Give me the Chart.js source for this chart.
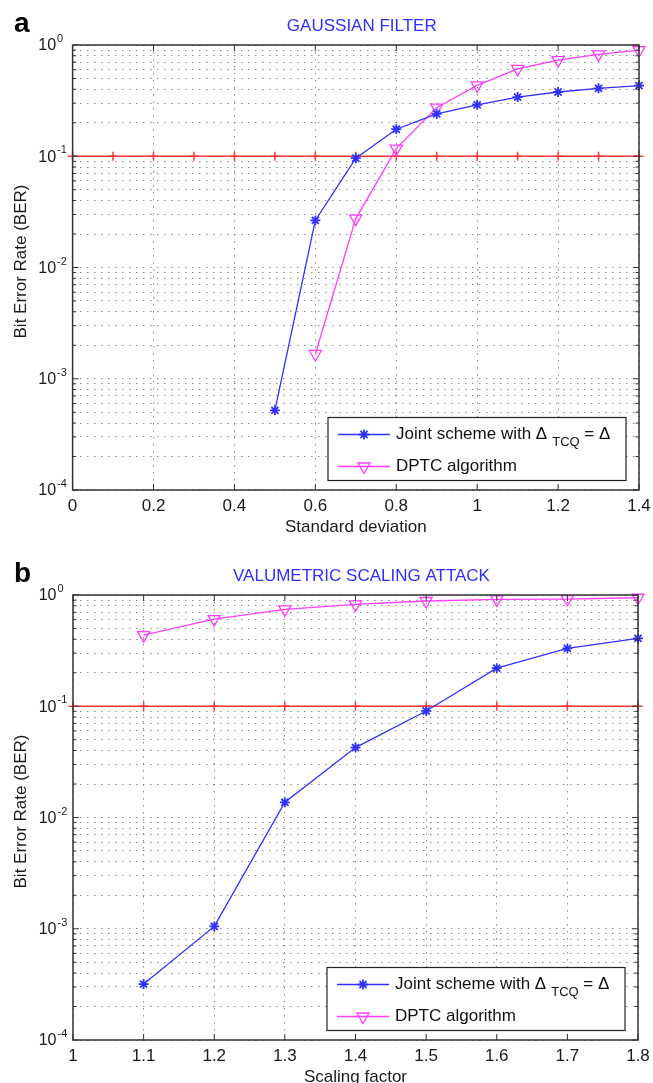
<!DOCTYPE html>
<html lang="en">
<head>
    <meta charset="UTF-8">
    <title>BER charts</title>
    <script src="https://cdn.jsdelivr.net/npm/chart.js"></script>
    <style>
        body {
            margin: 0;
            background: #fff;
        }
        .panel {
            position: absolute;
            left: 0;
        }
    </style>
</head>
<body>
    <canvas id="chartA" class="panel" style="top:0" width="653" height="545"></canvas>
    <canvas id="chartB" class="panel" style="top:545px" width="653" height="538"></canvas>

    <script>
// (a) gaussian filter
const gaussJointX = [0.5, 0.6, 0.7, 0.8, 0.9, 1.0, 1.1, 1.2, 1.3, 1.4];
const gaussJoint = [0.00052, 0.0265, 0.096, 0.175, 0.240, 0.290, 0.340, 0.378, 0.408, 0.431];
const gaussDptcX = [0.6, 0.7, 0.8, 0.9, 1.0, 1.1, 1.2, 1.3, 1.4];
const gaussDptc = [0.00167, 0.0275, 0.117, 0.274, 0.434, 0.611, 0.731, 0.824, 0.901];
const gaussThrX = [0, 0.1, 0.2, 0.3, 0.4, 0.5, 0.6, 0.7, 0.8, 0.9, 1.0, 1.1, 1.2, 1.3, 1.4];
const gaussXTicks = [0, 0.2, 0.4, 0.6, 0.8, 1, 1.2, 1.4];

// (b) valumetric scaling
const scaleX = [1.1, 1.2, 1.3, 1.4, 1.5, 1.6, 1.7, 1.8];
const scaleJoint = [0.000318, 0.00105, 0.0137, 0.0425, 0.0907, 0.22, 0.331, 0.407];
const scaleDptc = [0.436, 0.608, 0.743, 0.824, 0.883, 0.914, 0.92, 0.945];
const scaleThrX = [1.0, 1.1, 1.2, 1.3, 1.4, 1.5, 1.6, 1.7, 1.8];
const scaleXTicks = [1, 1.1, 1.2, 1.3, 1.4, 1.5, 1.6, 1.7, 1.8];

const threshold = 0.1;
const yDecades = [1e-4, 1e-3, 1e-2, 1e-1, 1];
const yExponents = ['-4', '-3', '-2', '-1', '0'];
const legendLabels = ['Joint scheme with \u0394', 'TCQ', ' = \u0394', 'DPTC algorithm'];

const FONT = "'Liberation Sans', Arial, sans-serif";
const BLUE = '#3030ff';
const MAGENTA = '#ff3cff';
const RED = '#ff3434';

// every 1..9 x 10^k between the decades, for the log grid
const yGridTicks = [];
yDecades.forEach((d, i) => {
    if (i === yDecades.length - 1) { yGridTicks.push(d); return; }
    for (let m = 1; m < 10; m++) yGridTicks.push(m * d);
});

function isDecade(v) {
    const l = Math.log10(v);
    return Math.abs(l - Math.round(l)) < 1e-6;
}

function pts(xs, ys) {
    return xs.map((x, i) => ({ x: x, y: Array.isArray(ys) ? ys[i] : ys }));
}

const matlabAxes = {
    id: 'matlabAxes',
    afterDatasetsDraw(chart, args, o) {
        const { ctx, chartArea: a, scales: { x, y } } = chart;
        const ds = chart.data.datasets;
        ctx.save();
        ctx.strokeStyle = '#333';
        ctx.lineWidth = 1;
        ctx.beginPath();
        x.ticks.forEach(t => {
            const px = x.getPixelForValue(t.value);
            ctx.moveTo(px, a.bottom); ctx.lineTo(px, a.bottom - 6);
            ctx.moveTo(px, a.top); ctx.lineTo(px, a.top + 6);
        });
        y.ticks.forEach(t => {
            const py = y.getPixelForValue(t.value);
            const len = isDecade(t.value) ? 6 : 3.5;
            ctx.moveTo(a.left, py); ctx.lineTo(a.left + len, py);
            ctx.moveTo(a.right, py); ctx.lineTo(a.right - len, py);
        });
        ctx.stroke();

        // legend box, lower right
        const lw = 298, lh = 63;
        const lx = a.right - 13 - lw, ly = a.bottom - 9.5 - lh;
        ctx.fillStyle = '#fff';
        ctx.fillRect(lx, ly, lw, lh);
        ctx.strokeStyle = '#222';
        ctx.lineWidth = 1.2;
        ctx.strokeRect(lx, ly, lw, lh);

        [[0, ly + 17], [1, ly + 49]].forEach(([k, ry]) => {
            const d = ds[k];
            ctx.strokeStyle = d.borderColor;
            ctx.lineWidth = d.borderWidth;
            ctx.beginPath();
            ctx.moveTo(lx + 10, ry); ctx.lineTo(lx + 62, ry);
            ctx.stroke();
            ctx.fillStyle = d.pointBackgroundColor;
            ctx.strokeStyle = d.pointBorderColor;
            ctx.lineWidth = d.pointBorderWidth;
            Chart.helpers.drawPoint(ctx, {
                pointStyle: d.pointStyle, radius: d.pointRadius,
                rotation: d.pointRotation || 0, borderWidth: d.pointBorderWidth
            }, lx + 36, ry);
        });

        ctx.fillStyle = '#111';
        ctx.textBaseline = 'middle';
        ctx.textAlign = 'left';
        let tx = lx + 68;
        ctx.font = '17px ' + FONT;
        ctx.fillText(legendLabels[0], tx, ly + 17);
        tx += ctx.measureText(legendLabels[0]).width + 5;
        ctx.font = '13px ' + FONT;
        ctx.fillText(legendLabels[1], tx, ly + 25);
        tx += ctx.measureText(legendLabels[1]).width;
        ctx.font = '17px ' + FONT;
        ctx.fillText(legendLabels[2], tx, ly + 17);
        ctx.fillText(legendLabels[3], lx + 68, ly + 49);

        // box
        ctx.strokeStyle = '#333';
        ctx.lineWidth = 1.5;
        ctx.strokeRect(a.left, a.top, a.width, a.height);
        ctx.restore();
    },
    afterDraw(chart, args, o) {
        const { ctx, chartArea: a, scales: { x, y } } = chart;
        ctx.save();
        ctx.fillStyle = '#1a1a1a';
        ctx.textBaseline = 'middle';

        ctx.textAlign = 'center';
        ctx.font = '17px ' + FONT;
        o.xTicks.forEach(v => {
            ctx.fillText(String(v), x.getPixelForValue(v), a.bottom + 16.5);
        });
        ctx.fillText(o.xTitle, (a.left + a.right) / 2, a.bottom + 37);

        yDecades.forEach((v, i) => {
            const py = y.getPixelForValue(v);
            ctx.textAlign = 'right';
            ctx.font = '16px ' + FONT;
            ctx.fillText('10', a.left - 16.5, py + 1);
            ctx.textAlign = 'left';
            ctx.font = '11px ' + FONT;
            ctx.fillText(yExponents[i], a.left - 15.5, py - 6);
        });

        ctx.save();
        ctx.translate(21, (a.top + a.bottom) / 2 - 6);
        ctx.rotate(-Math.PI / 2);
        ctx.textAlign = 'center';
        ctx.font = '17px ' + FONT;
        ctx.fillText('Bit Error Rate (BER)', 0, 0);
        ctx.restore();

        ctx.textAlign = 'center';
        ctx.fillStyle = '#2f2fff';
        ctx.font = '17px ' + FONT;
        ctx.fillText(o.title, (a.left + a.right) / 2 + 6, a.top - 19);

        ctx.textAlign = 'left';
        ctx.textBaseline = 'alphabetic';
        ctx.fillStyle = '#000';
        ctx.font = 'bold 28px ' + FONT;
        ctx.fillText(o.letter, 14, a.top - 13);
        ctx.restore();
    }
};

function makeChart(id, cfg) {
    const grid = {
        color: 'rgba(90,90,90,0.7)',
        lineWidth: 1,
        drawTicks: false
    };
    const border = { display: false, dash: [1.5, 5.5] };
    return new Chart(document.getElementById(id), {
        type: 'line',
        data: {
            datasets: [{
                label: 'Joint scheme with \u0394TCQ = \u0394',
                data: pts(cfg.jointX, cfg.joint),
                borderColor: BLUE,
                borderWidth: 1.3,
                pointStyle: 'star',
                pointRadius: 5,
                pointBorderColor: BLUE,
                pointBackgroundColor: BLUE,
                pointBorderWidth: 1.8,
                clip: false
            }, {
                label: 'DPTC algorithm',
                data: pts(cfg.dptcX, cfg.dptc),
                borderColor: MAGENTA,
                borderWidth: 1.3,
                pointStyle: 'triangle',
                pointRotation: 180,
                pointRadius: 7,
                pointBorderColor: MAGENTA,
                pointBackgroundColor: 'rgba(0,0,0,0)',
                pointBorderWidth: 1.3,
                clip: false
            }, {
                label: 'threshold',
                data: pts(cfg.thrX, threshold),
                borderColor: RED,
                borderWidth: 1.6,
                pointStyle: 'cross',
                pointRadius: 4.5,
                pointBorderColor: RED,
                pointBorderWidth: 1.5,
                clip: false
            }]
        },
        options: {
            responsive: false,
            animation: false,
            layout: { padding: { top: cfg.top, right: cfg.right, left: 0, bottom: 0 } },
            plugins: {
                legend: { display: false },
                tooltip: { enabled: false },
                matlabAxes: { title: cfg.title, xTitle: cfg.xTitle, letter: cfg.letter, xTicks: cfg.xTicks }
            },
            elements: { line: { tension: 0 } },
            scales: {
                x: {
                    type: 'linear',
                    min: cfg.xTicks[0],
                    max: cfg.xTicks[cfg.xTicks.length - 1],
                    afterBuildTicks: s => { s.ticks = cfg.xTicks.map(v => ({ value: v })); },
                    afterFit: s => { s.height = cfg.xHeight; },
                    ticks: { display: false },
                    grid: grid,
                    border: border
                },
                y: {
                    type: 'logarithmic',
                    min: 1e-4,
                    max: 1,
                    afterBuildTicks: s => { s.ticks = yGridTicks.map(v => ({ value: v })); },
                    afterFit: s => { s.width = cfg.yWidth; },
                    ticks: { display: false },
                    grid: grid,
                    border: border
                }
            }
        },
        plugins: [matlabAxes]
    });
}

makeChart('chartA', {
    jointX: gaussJointX, joint: gaussJoint,
    dptcX: gaussDptcX, dptc: gaussDptc,
    thrX: gaussThrX, xTicks: gaussXTicks,
    title: 'GAUSSIAN FILTER', xTitle: 'Standard deviation', letter: 'a',
    top: 45, right: 14, xHeight: 55, yWidth: 72.6
});

makeChart('chartB', {
    jointX: scaleX, joint: scaleJoint,
    dptcX: scaleX, dptc: scaleDptc,
    thrX: scaleThrX, xTicks: scaleXTicks,
    title: 'VALUMETRIC SCALING ATTACK', xTitle: 'Scaling factor', letter: 'b',
    top: 50, right: 15, xHeight: 43, yWidth: 73
});
    </script>
</body>
</html>
